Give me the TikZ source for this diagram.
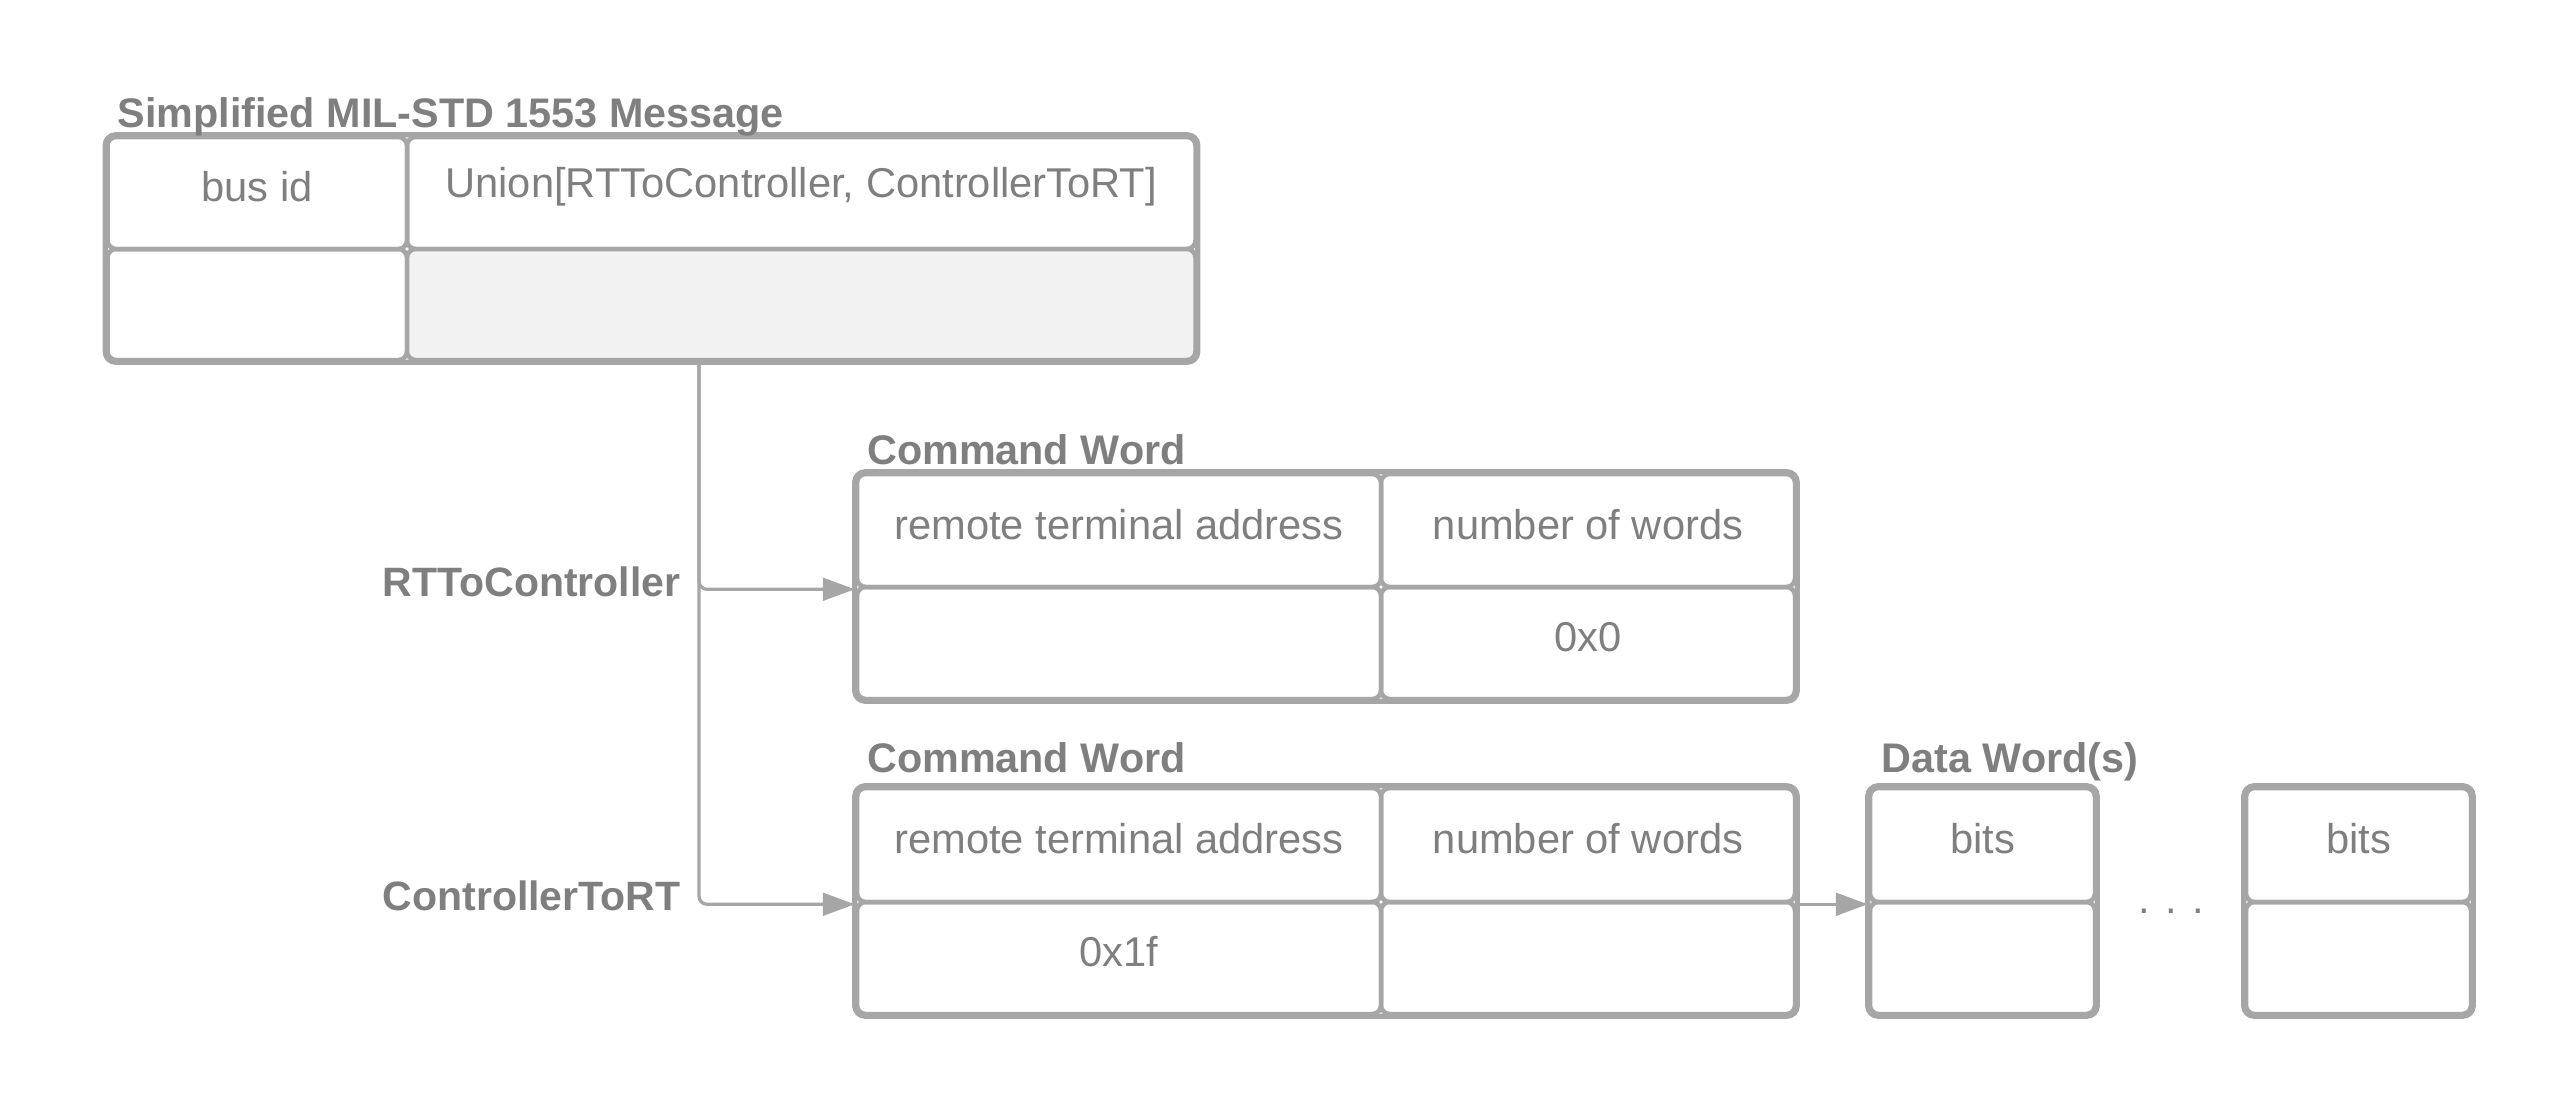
\documentclass[tikz,border=0pt]{standalone}
\usepackage{fontspec}
\setmainfont{Liberation Sans}
\usetikzlibrary{arrows.meta}
\definecolor{bordc}{HTML}{A6A6A6}
\definecolor{txtc}{HTML}{7F7F7F}
\definecolor{fillc}{HTML}{F2F2F2}
\newcommand\mkcell[7][]{\node[cell,#1,minimum width={(#4-#2)*0.3pt},minimum height={(#5-#3)*0.3pt}] (#6) at ({(#2+#4)/2},{(#3+#5)/2}) {\raisebox{1.8pt}[\height][\depth]{#7}};}
\begin{document}
\begin{tikzpicture}[x=0.3pt,y=-0.3pt,
  cell/.style={draw=bordc, line width=1.35pt, rounded corners=2.6pt, inner sep=0pt, text=txtc, font=\fontsize{12.5}{14}\selectfont},
  frame/.style={draw=bordc, line width=1.6pt, rounded corners=3.2pt},
  ttl/.style={text=txtc, font=\fontsize{12.4}{14}\selectfont\bfseries, inner sep=0pt, anchor=base west},
  lbl/.style={text=txtc, font=\fontsize{12.3}{14}\selectfont\bfseries, inner sep=0pt, anchor=east},
  conn/.style={draw=bordc, line width=1pt, rounded corners=2.4pt},
  tip/.style={-{Triangle[length=9.6pt,width=6.8pt]}}]
\useasboundingbox[fill=white] (0,0) rectangle (2554,1110);

% main message table
\mkcell{107.5}{137}{407}{249}{m11}{bus id}
\mkcell{407}{137}{1195.5}{249}{m12}{Union[RTToController, ControllerToRT]}
\mkcell{107.5}{249}{407}{360}{m21}{}
\mkcell[fill=fillc]{407}{249}{1195.5}{360}{m22}{}
\draw[frame] (m11.north west) rectangle (m22.south east);
\node[ttl] (t0) at (117,127) {Simplified MIL-STD 1553 Message};

% command word 1
\mkcell{857}{474}{1381}{587}{a11}{remote terminal address}
\mkcell{1381}{474}{1795}{587}{a12}{number of words}
\mkcell{857}{587}{1381}{699}{a21}{}
\mkcell{1381}{587}{1795}{699}{a22}{0x0}
\draw[frame] (a11.north west) rectangle (a22.south east);
\node[ttl] (t1) at (866.5,464) {Command Word};

% command word 2
\mkcell{857}{788}{1381}{902}{b11}{remote terminal address}
\mkcell{1381}{788}{1795}{902}{b12}{number of words}
\mkcell{857}{902}{1381}{1014}{b21}{0x1f}
\mkcell{1381}{902}{1795}{1014}{b22}{}
\draw[frame] (b11.north west) rectangle (b22.south east);
\node[ttl] (t2) at (866.5,772) {Command Word};

% data words
\mkcell{1870}{788}{2095}{902}{d11}{bits}
\mkcell{1870}{902}{2095}{1014}{d12}{}
\draw[frame] (d11.north west) rectangle (d12.south east);
\mkcell{2246}{788}{2471}{902}{e11}{bits}
\mkcell{2246}{902}{2471}{1014}{e12}{}
\draw[frame] (e11.north west) rectangle (e12.south east);
\node[ttl] (t3) at (1881,772) {Data Word(s)};
\node[text=txtc, font=\fontsize{12.5}{14}\selectfont, inner sep=0pt, anchor=base] (dots) at (2171,913) {. . .};

% labels
\node[lbl] (rtc) at (681,582) {RTToController};
\node[lbl] (ctr) at (681,896) {ControllerToRT};

% connectors
\coordinate (bus) at (699,360);
\draw[conn,tip] (bus) |- (a11.south west);
\draw[conn,tip] (bus) |- (b11.south west);
\draw[conn,tip] (b12.south east) -- (d11.south west);
\end{tikzpicture}
\end{document}
